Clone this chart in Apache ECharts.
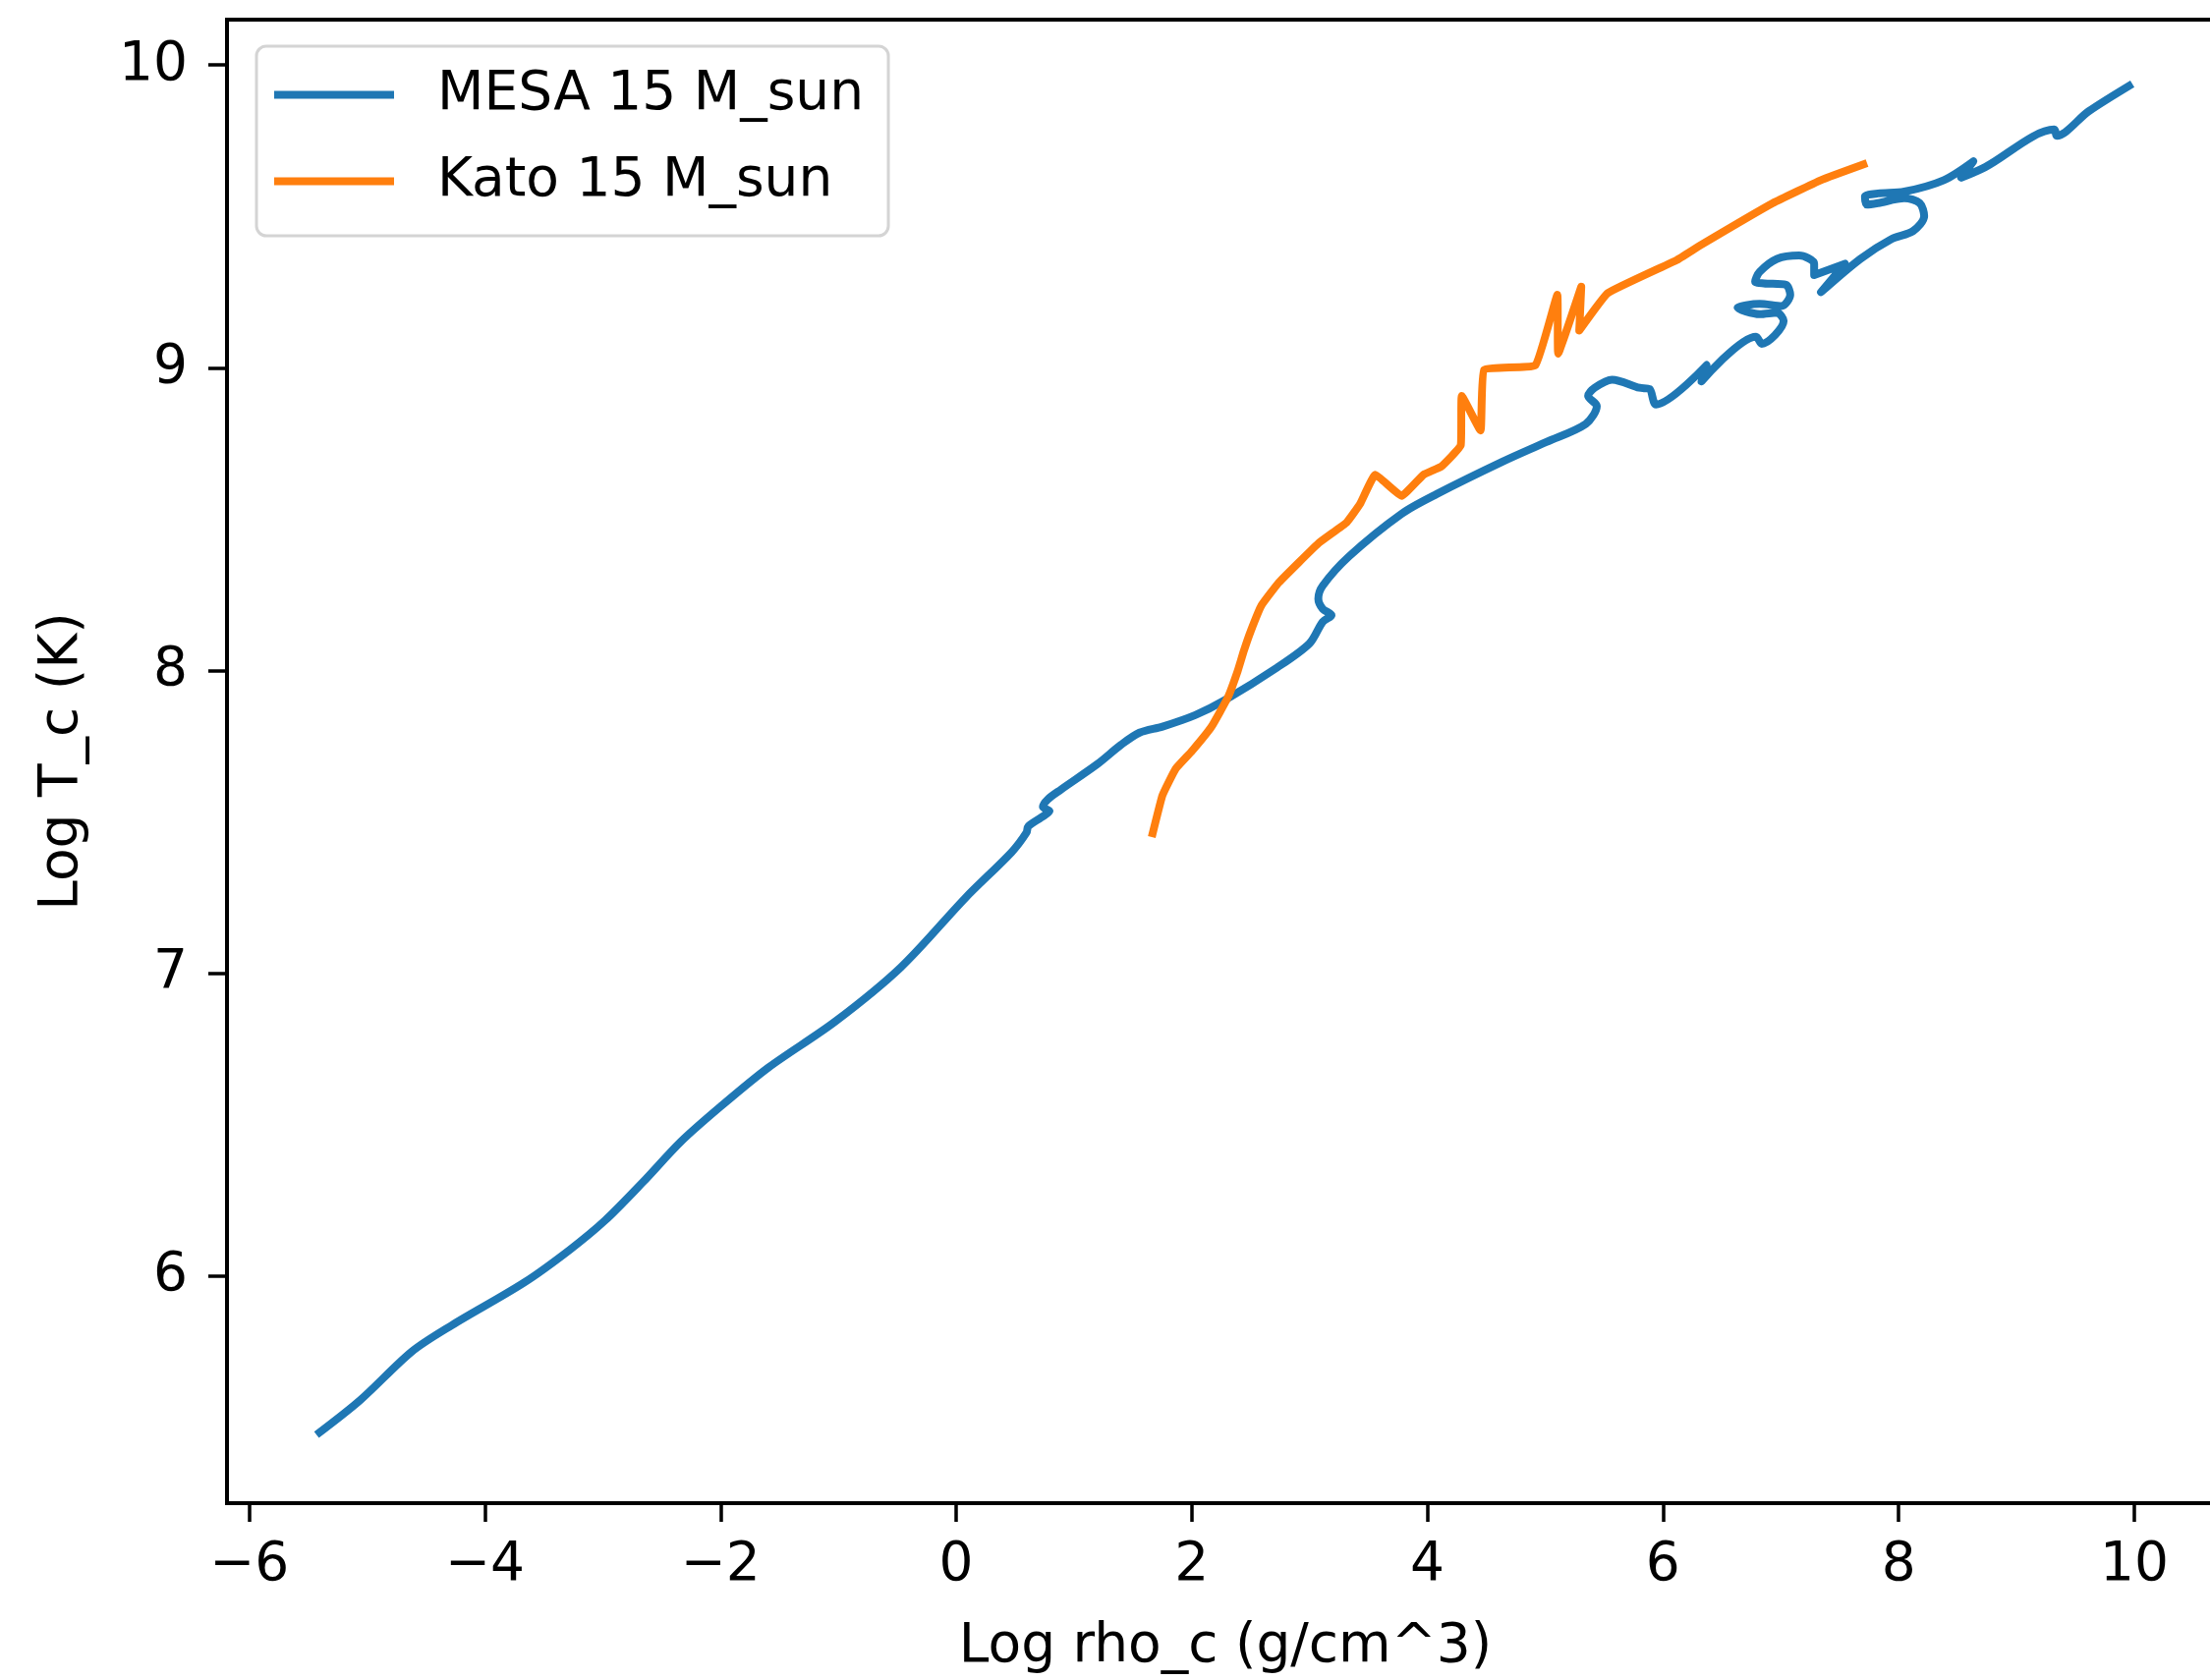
<!DOCTYPE html>
<html>
<head>
<meta charset="utf-8">
<script src="https://cdn.jsdelivr.net/npm/echarts@6/dist/echarts.min.js"></script>
<style>
  html, body { margin: 0; padding: 0; background: #fff; overflow: hidden; }
  #chart { width: 2249px; height: 1710px; }
</style>
</head>
<body>
<div id="chart"></div>
<script>
// MESA 15 M_sun track (log rho_c, log T_c)
var mesaRho = [-5.43, -5.06, -4.62, -4.28, -3.67, -3.28, -2.98, -2.66, -2.34, -2.0, -1.59, -1.03,
    -0.47, 0.08, 0.47, 0.597, 0.611, 0.722, 0.792, 0.736, 0.778, 0.889, 1.195, 1.4, 1.556, 1.751,
    2.029, 2.279, 2.724, 3.0, 3.111, 3.186, 3.111, 3.074, 3.111, 3.334, 3.781, 4.079, 4.638, 5.01,
    5.345, 5.438, 5.364, 5.419, 5.568, 5.8, 5.885, 5.941, 6.37, 6.327, 6.79, 6.838, 7.024, 6.968,
    6.82, 6.633, 6.82, 7.006, 7.08, 7.043, 6.857, 6.782, 6.82, 6.968, 7.155, 7.283, 7.283, 7.545,
    7.341, 7.676, 7.937, 8.123, 8.217, 8.179, 8.049, 7.826, 7.732, 7.714, 7.826, 8.049, 8.384, 8.635,
    8.532, 8.735, 9.321, 9.343, 9.612, 9.984];
var mesaT = [5.476, 5.59, 5.751, 5.838, 5.978, 6.087, 6.184, 6.31, 6.443, 6.56, 6.69, 6.84,
    7.02, 7.25, 7.4, 7.465, 7.485, 7.515, 7.536, 7.55, 7.575, 7.607, 7.69, 7.755, 7.795, 7.815,
    7.853, 7.902, 8.01, 8.09, 8.161, 8.183, 8.204, 8.237, 8.28, 8.377, 8.518, 8.583, 8.69, 8.755,
    8.815, 8.874, 8.907, 8.934, 8.961, 8.934, 8.93, 8.879, 9.009, 8.955, 9.103, 9.079, 9.155, 9.182,
    9.177, 9.198, 9.211, 9.204, 9.241, 9.274, 9.279, 9.285, 9.317, 9.36, 9.371, 9.344, 9.306, 9.344,
    9.25, 9.36, 9.425, 9.452, 9.501, 9.544, 9.56, 9.544, 9.539, 9.566, 9.576, 9.582, 9.62, 9.682,
    9.628, 9.663, 9.787, 9.766, 9.847, 9.938];

// Kato 15 M_sun track
var katoRho = [1.66, 1.751, 1.862, 2.001, 2.168, 2.307, 2.39, 2.441, 2.5, 2.591, 2.739, 3.074, 3.316,
    3.428, 3.558, 3.781, 3.967, 4.117, 4.283, 4.292, 4.451, 4.481, 4.917, 5.103, 5.11, 5.306, 5.289,
    5.532, 6.112, 6.314, 6.932, 7.341, 7.732];
var katoT = [7.45, 7.588, 7.675, 7.734, 7.815, 7.912, 7.999, 8.064, 8.13, 8.215, 8.291, 8.42, 8.49,
    8.55, 8.647, 8.577, 8.647, 8.674, 8.744, 8.907, 8.793, 8.993, 9.009, 9.241, 9.047, 9.268, 9.123,
    9.247, 9.355, 9.404, 9.544, 9.62, 9.676];

var xTicks = [-6, -4, -2, 0, 2, 4, 6, 8, 10];
var yTicks = [6, 7, 8, 9, 10];

function pairs(xs, ys) {
    return xs.map(function (x, i) { return [x, ys[i]]; });
}
function fmt(v) {
    return v < 0 ? '\u2212' + (-v) : String(v);
}

(function () {
    var myChart = echarts.init(document.getElementById('chart'), null, { renderer: 'canvas' });
    var font = 'DejaVu Sans';
    var option = {
        backgroundColor: '#fff',
        animation: false,
        grid: {
            left: 231,
            top: 20,
            width: 2032,
            height: 1510,
            show: true,
            borderColor: '#000',
            borderWidth: 4,
            outerBoundsMode: 'none'
        },
        legend: {
            left: 261,
            top: 47,
            orient: 'vertical',
            icon: 'rect',
            itemWidth: 122,
            itemHeight: 8,
            itemGap: 33,
            padding: [22, 25, 28, 18],
            backgroundColor: 'rgba(255,255,255,0.8)',
            borderColor: '#d4d4d4',
            borderWidth: 3,
            borderRadius: 10,
            textStyle: {
                fontFamily: font,
                fontSize: 55,
                lineHeight: 55,
                color: '#000',
                padding: [0, 0, 0, 39]
            },
            data: ['MESA 15 M_sun', 'Kato 15 M_sun']
        },
        xAxis: {
            type: 'value',
            min: -6.19,
            max: 10.76,
            name: 'Log rho_c (g/cm^3)',
            nameLocation: 'middle',
            nameGap: 119,
            nameTextStyle: { fontFamily: font, fontSize: 55, color: '#000' },
            axisLine: { show: false, onZero: false },
            axisTick: { show: true, length: 19, customValues: xTicks, lineStyle: { color: '#000', width: 3.5 } },
            axisLabel: { customValues: xTicks, margin: 36, fontFamily: font, fontSize: 55, color: '#000', formatter: fmt },
            splitLine: { show: false }
        },
        yAxis: {
            type: 'value',
            min: 5.25,
            max: 10.15,
            name: 'Log T_c (K)',
            nameLocation: 'middle',
            nameGap: 140,
            nameTextStyle: { fontFamily: font, fontSize: 55, color: '#000' },
            axisLine: { show: false, onZero: false },
            axisTick: { show: true, length: 19, customValues: yTicks, lineStyle: { color: '#000', width: 3.5 } },
            axisLabel: { customValues: yTicks, margin: 40, fontFamily: font, fontSize: 55, color: '#000' },
            splitLine: { show: false }
        },
        series: [
            {
                name: 'MESA 15 M_sun',
                type: 'line',
                data: pairs(mesaRho, mesaT),
                showSymbol: false,
                smooth: 0.3,
                color: '#1f77b4',
                lineStyle: { color: '#1f77b4', width: 8, join: 'round' }
            },
            {
                name: 'Kato 15 M_sun',
                type: 'line',
                data: pairs(katoRho, katoT),
                showSymbol: false,
                smooth: 0.1,
                color: '#ff7f0e',
                lineStyle: { color: '#ff7f0e', width: 8, join: 'round' }
            }
        ]
    };
    myChart.setOption(option);
})();
</script>
</body>
</html>
